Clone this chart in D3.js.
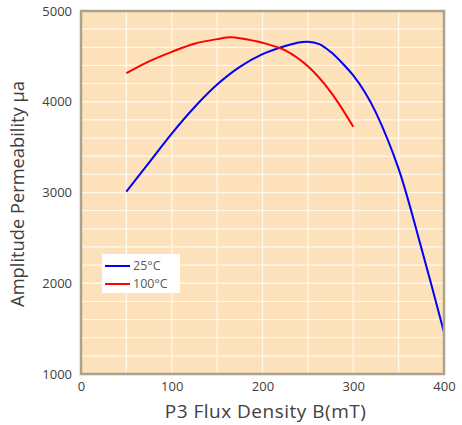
<!DOCTYPE html>
<html>
<head lang="en">
    <meta charset="UTF-8">
    <title>d3</title>
    <style>
        body { margin: 0; background: #fff; }
        .tick text { font-family: "Open Sans", sans-serif; font-size: 13px; fill: #404040; }
        .title { font-family: "Open Sans", sans-serif; fill: #404040; }
        .legend text { font-family: "Open Sans", sans-serif; font-size: 12.5px; fill: #595959; }
    </style>
</head>
<body>
<svg width="462" height="425"></svg>

<script src="https://cdn.jsdelivr.net/npm/d3@7"></script>
<script>
    // B (mT)
    var bLow = [50, 75, 100, 125, 150, 175, 200, 225, 237.5, 250, 262.5, 275, 287.5, 300, 312.5, 325, 350, 375, 400];
    var ua25 = [3010, 3330, 3650, 3940, 4190, 4385, 4525, 4615, 4648, 4662, 4635, 4550, 4430, 4290, 4110, 3880, 3260, 2390, 1460];
    var bHigh = [50, 75, 100, 125, 150, 165, 175, 200, 225, 250, 275, 300];
    var ua100 = [4315, 4445, 4550, 4640, 4690, 4710, 4700, 4650, 4565, 4390, 4110, 3725];
    var xTicks = [0, 100, 200, 300, 400];
    var yTicks = [1000, 2000, 3000, 4000, 5000];
    var seriesNames = ["25°C", "100°C"];
    var seriesColors = ["#0000ff", "#ff0000"];

    var svg = d3.select("svg"),
        margin = {top: 11, right: 18, bottom: 51, left: 81},
        width = +svg.attr("width") - margin.left - margin.right,
        height = +svg.attr("height") - margin.top - margin.bottom;

    var x = d3.scaleLinear().domain([0, 400]).range([0, width]);
    var y = d3.scaleLinear().domain([1000, 5000]).range([height, 0]);

    var g = svg.append("g")
        .attr("transform", "translate(" + margin.left + "," + margin.top + ")");

    g.append("rect")
        .attr("width", width)
        .attr("height", height)
        .attr("fill", "#fce1ba");

    // grid
    g.selectAll(".hgrid")
        .data(d3.range(1200, 5000, 200))
        .enter().append("line")
        .attr("x1", 0).attr("x2", width)
        .attr("y1", function (d) { return y(d); })
        .attr("y2", function (d) { return y(d); })
        .attr("stroke", "#fff8ee").attr("stroke-width", 1.3);

    g.selectAll(".vgrid")
        .data(d3.range(50, 400, 50))
        .enter().append("line")
        .attr("y1", 0).attr("y2", height)
        .attr("x1", function (d) { return x(d); })
        .attr("x2", function (d) { return x(d); })
        .attr("stroke", "#fff8ee").attr("stroke-width", 1.3);

    // axes
    var xAxis = g.append("g")
        .attr("transform", "translate(0," + height + ")")
        .call(d3.axisBottom(x).tickValues(xTicks).tickFormat(d3.format("d")).tickSize(0).tickPadding(8));
    xAxis.select(".domain").remove();

    var yAxis = g.append("g")
        .call(d3.axisLeft(y).tickValues(yTicks).tickFormat(d3.format("d")).tickSize(0).tickPadding(9));
    yAxis.select(".domain").remove();

    // curves
    var line = d3.line()
        .x(function (d) { return x(d[0]); })
        .y(function (d) { return y(d[1]); })
        .curve(d3.curveCatmullRom.alpha(0.5));

    g.append("path")
        .datum(d3.zip(bLow, ua25))
        .attr("d", line)
        .attr("fill", "none")
        .attr("stroke", seriesColors[0])
        .attr("stroke-width", 2);

    g.append("path")
        .datum(d3.zip(bHigh, ua100))
        .attr("d", line)
        .attr("fill", "none")
        .attr("stroke", seriesColors[1])
        .attr("stroke-width", 2);

    // frame
    g.append("rect")
        .attr("width", width)
        .attr("height", height)
        .attr("fill", "none")
        .attr("stroke", "#ada28f")
        .attr("stroke-width", 2.5);

    // legend
    var lg = g.append("g").attr("class", "legend").attr("transform", "translate(21,243)");
    lg.append("rect").attr("width", 78).attr("height", 39).attr("fill", "#fff");
    seriesNames.forEach(function (name, i) {
        lg.append("line")
            .attr("x1", 3).attr("x2", 28)
            .attr("y1", 12 + i * 18).attr("y2", 12 + i * 18)
            .attr("stroke", seriesColors[i]).attr("stroke-width", 2);
        lg.append("text")
            .attr("x", 31).attr("y", 12 + i * 18)
            .attr("dy", "0.35em")
            .text(name);
    });

    // titles
    svg.append("text")
        .attr("class", "title")
        .attr("x", margin.left + width / 2 + 3)
        .attr("y", 418)
        .attr("text-anchor", "middle")
        .attr("font-size", 19)
        .attr("letter-spacing", 0.5)
        .text("P3 Flux Density B(mT)");

    svg.append("text")
        .attr("class", "title")
        .attr("transform", "translate(24,194) rotate(-90)")
        .attr("text-anchor", "middle")
        .attr("font-size", 18.3)
        .text("Amplitude Permeability μa");
</script>
</body>
</html>
